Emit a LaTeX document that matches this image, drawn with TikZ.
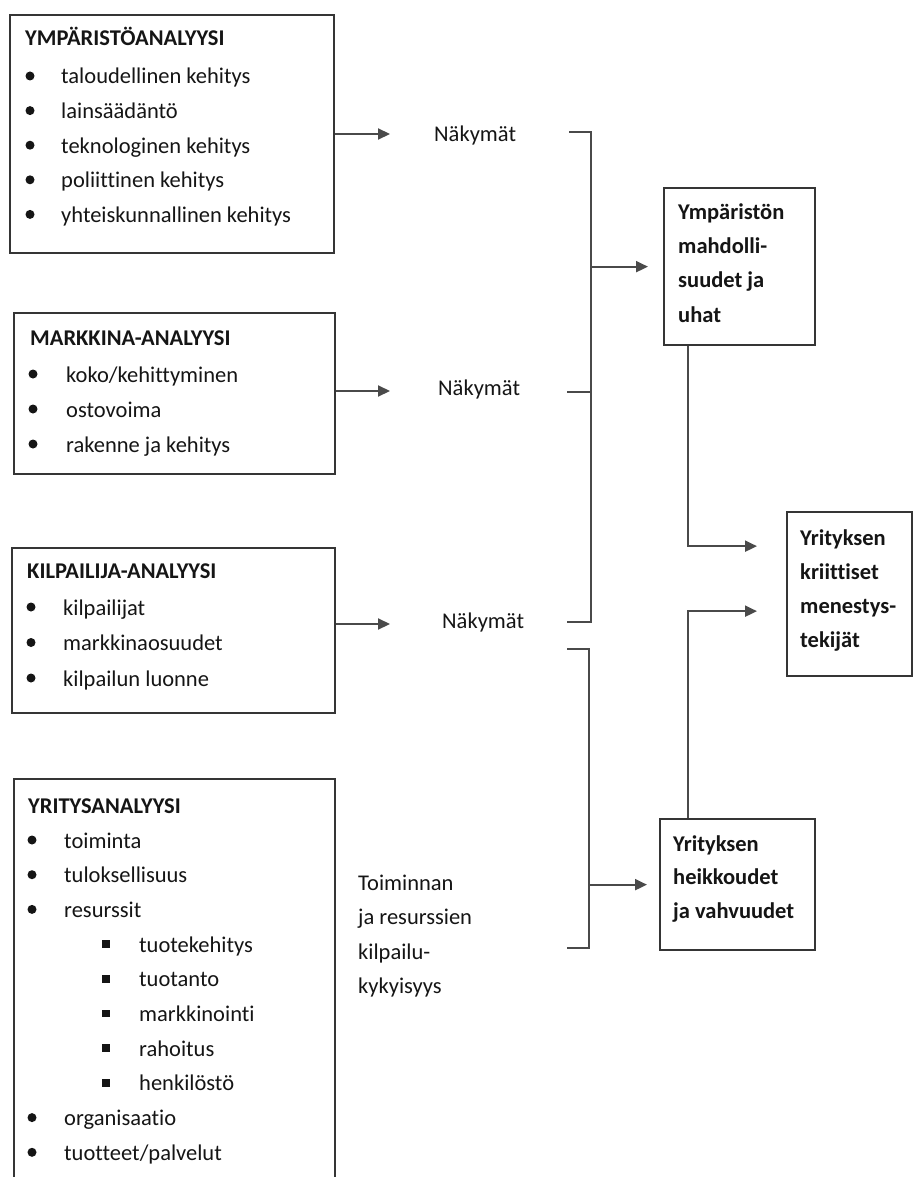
\documentclass[tikz,border=0pt]{standalone}
\usepackage{fontspec}
\setmainfont[Ligatures={NoCommon}]{Carlito}
\usetikzlibrary{arrows.meta}
\definecolor{ln}{HTML}{4A4A4A}
\definecolor{bd}{HTML}{353535}
\definecolor{tx}{HTML}{151515}
\tikzset{
  box/.style={draw=bd, line width=2.3pt, anchor=north west, inner sep=0pt},
  txt/.style={anchor=base west, inner sep=0pt, text=tx, font=\fontsize{22.5}{27}\selectfont},
  btxt/.style={anchor=base west, inner sep=0pt, text=tx, font=\fontsize{22.5}{27}\selectfont\bfseries},
  conn/.style={draw=ln, line width=2.1pt},
  arr/.style={conn, -{Triangle[length=12pt,width=11pt]}},
  dot/.style={circle, fill=tx, inner sep=0pt, minimum size=9pt},
  sq/.style={rectangle, fill=tx, inner sep=0pt, minimum size=7.5pt},
}
\begin{document}
\begin{tikzpicture}[x=1pt,y=-1pt]
\useasboundingbox (0,0) rectangle (913,1177);
\clip (0,0) rectangle (913,1177);
\fill[white] (0,0) rectangle (913,1177);

% ---------- boxes ----------
\node[box, minimum width=324pt, minimum height=238pt] (env) at (9,14) {};
\node[box, minimum width=321pt, minimum height=161pt] (mkt) at (13,312) {};
\node[box, minimum width=323pt, minimum height=165pt] (kil) at (11,547) {};
\node[box, minimum width=321pt, minimum height=430pt] (yri) at (13,778) {};
\node[box, minimum width=151pt, minimum height=157pt] (ymp) at (663,187) {};
\node[box, minimum width=125pt, minimum height=164pt] (krit) at (786,511) {};
\node[box, minimum width=155pt, minimum height=131pt] (heik) at (659,818) {};

% ---------- YMPÄRISTÖANALYYSI ----------
\node[btxt] (envT) at (25,46) {YMPÄRISTÖANALYYSI};
\foreach \t [count=\i] in {taloudellinen kehitys, lainsäädäntö, teknologinen kehitys, poliittinen kehitys, yhteiskunnallinen kehitys} {
  \pgfmathsetmacro\yy{84+34.6*(\i-1)}
  \node[dot] (envB\i) at (30,\yy-8) {};
  \node[txt] (envI\i) at (61,\yy) {\t};
}

% ---------- MARKKINA-ANALYYSI ----------
\node[btxt] (mktT) at (30,345) {MARKKINA-ANALYYSI};
\foreach \t [count=\i] in {koko/kehittyminen, ostovoima, rakenne ja kehitys} {
  \pgfmathsetmacro\yy{382+35*(\i-1)}
  \node[dot] (mktB\i) at (33,\yy-8) {};
  \node[txt] (mktI\i) at (66,\yy) {\t};
}

% ---------- KILPAILIJA-ANALYYSI ----------
\node[btxt] (kilT) at (27,578) {KILPAILIJA-ANALYYSI};
\foreach \t [count=\i] in {kilpailijat, markkinaosuudet, kilpailun luonne} {
  \pgfmathsetmacro\yy{615+35.5*(\i-1)}
  \node[dot] (kilB\i) at (31,\yy-8) {};
  \node[txt] (kilI\i) at (63,\yy) {\t};
}

% ---------- YRITYSANALYYSI ----------
\node[btxt] (yriT) at (28,813) {YRITYSANALYYSI};
\foreach \t/\k [count=\i] in {toiminta/0, tuloksellisuus/0, resurssit/0, tuotekehitys/1, tuotanto/1, markkinointi/1, rahoitus/1, henkilöstö/1, organisaatio/0, tuotteet\slash palvelut/0} {
  \pgfmathsetmacro\yy{848+34.7*(\i-1)}
  \ifnum\k=0
    \node[dot] (yriB\i) at (32,\yy-8) {};
    \node[txt] (yriI\i) at (64,\yy) {\t};
  \else
    \node[sq] (yriB\i) at (106,\yy-8) {};
    \node[txt] (yriI\i) at (139,\yy) {\t};
  \fi
}

% ---------- Näkymät labels ----------
\node[txt] (nak1) at (434,141.5) {Näkymät};
\node[txt] (nak2) at (438,395.5) {Näkymät};
\node[txt] (nak3) at (442,628) {Näkymät};

% ---------- Toiminnan ... ----------
\foreach \t [count=\i] in {Toiminnan, ja resurssien, kilpailu-, kykyisyys} {
  \pgfmathsetmacro\yy{890+34.5*(\i-1)}
  \node[txt] (toi\i) at (358,\yy) {\t};
}

% ---------- right box texts ----------
\foreach \t [count=\i] in {Ympäristön, mahdolli-, suudet ja, uhat} {
  \pgfmathsetmacro\yy{219+34.4*(\i-1)}
  \node[btxt] (ympL\i) at (678,\yy) {\t};
}
\foreach \t [count=\i] in {Yrityksen, kriittiset, menestys-, tekijät} {
  \pgfmathsetmacro\yy{545+34*(\i-1)}
  \node[btxt] (kritL\i) at (800,\yy) {\t};
}
\foreach \t [count=\i] in {Yrityksen, heikkoudet, ja vahvuudet} {
  \pgfmathsetmacro\yy{851+33.7*(\i-1)}
  \node[btxt] (heikL\i) at (673,\yy) {\t};
}

% ---------- connectors ----------
\coordinate (t1) at (390,134);
\coordinate (t2) at (390,391);
\coordinate (t3) at (390,624);
\draw[arr] (env.east |- t1) -- (t1);
\draw[arr] (mkt.east |- t2) -- (t2);
\draw[arr] (kil.east |- t3) -- (t3);

% upper bracket
\coordinate (b1a) at (569,132);
\coordinate (b1b) at (591,132);
\coordinate (b1c) at (591,622);
\coordinate (b1d) at (567,622);
\coordinate (b1m) at (567,392);
\draw[conn] (b1a) -- (b1b) -- (b1c) -- (b1d);
\draw[conn] (b1m) -- (b1m -| b1b);
\draw[arr, shorten >=15pt] (b1b |- ymp.west) -- (ymp.west);

% lower bracket
\coordinate (b2a) at (567,649);
\coordinate (b2b) at (589,649);
\coordinate (b2c) at (589,948);
\coordinate (b2d) at (567,948);
\draw[conn] (b2a) -- (b2b) -- (b2c) -- (b2d);
\draw[arr, shorten >=12pt] (b2b |- heik.west) -- (heik.west);

% to critical success factors
\draw[arr, shorten >=29pt] ([xshift=-51.5pt]ymp.south) |- ([yshift=48pt]krit.west);
\draw[arr, shorten >=29pt] ([xshift=-49.5pt]heik.north) |- ([yshift=-17pt]krit.west);
\end{tikzpicture}
\end{document}
